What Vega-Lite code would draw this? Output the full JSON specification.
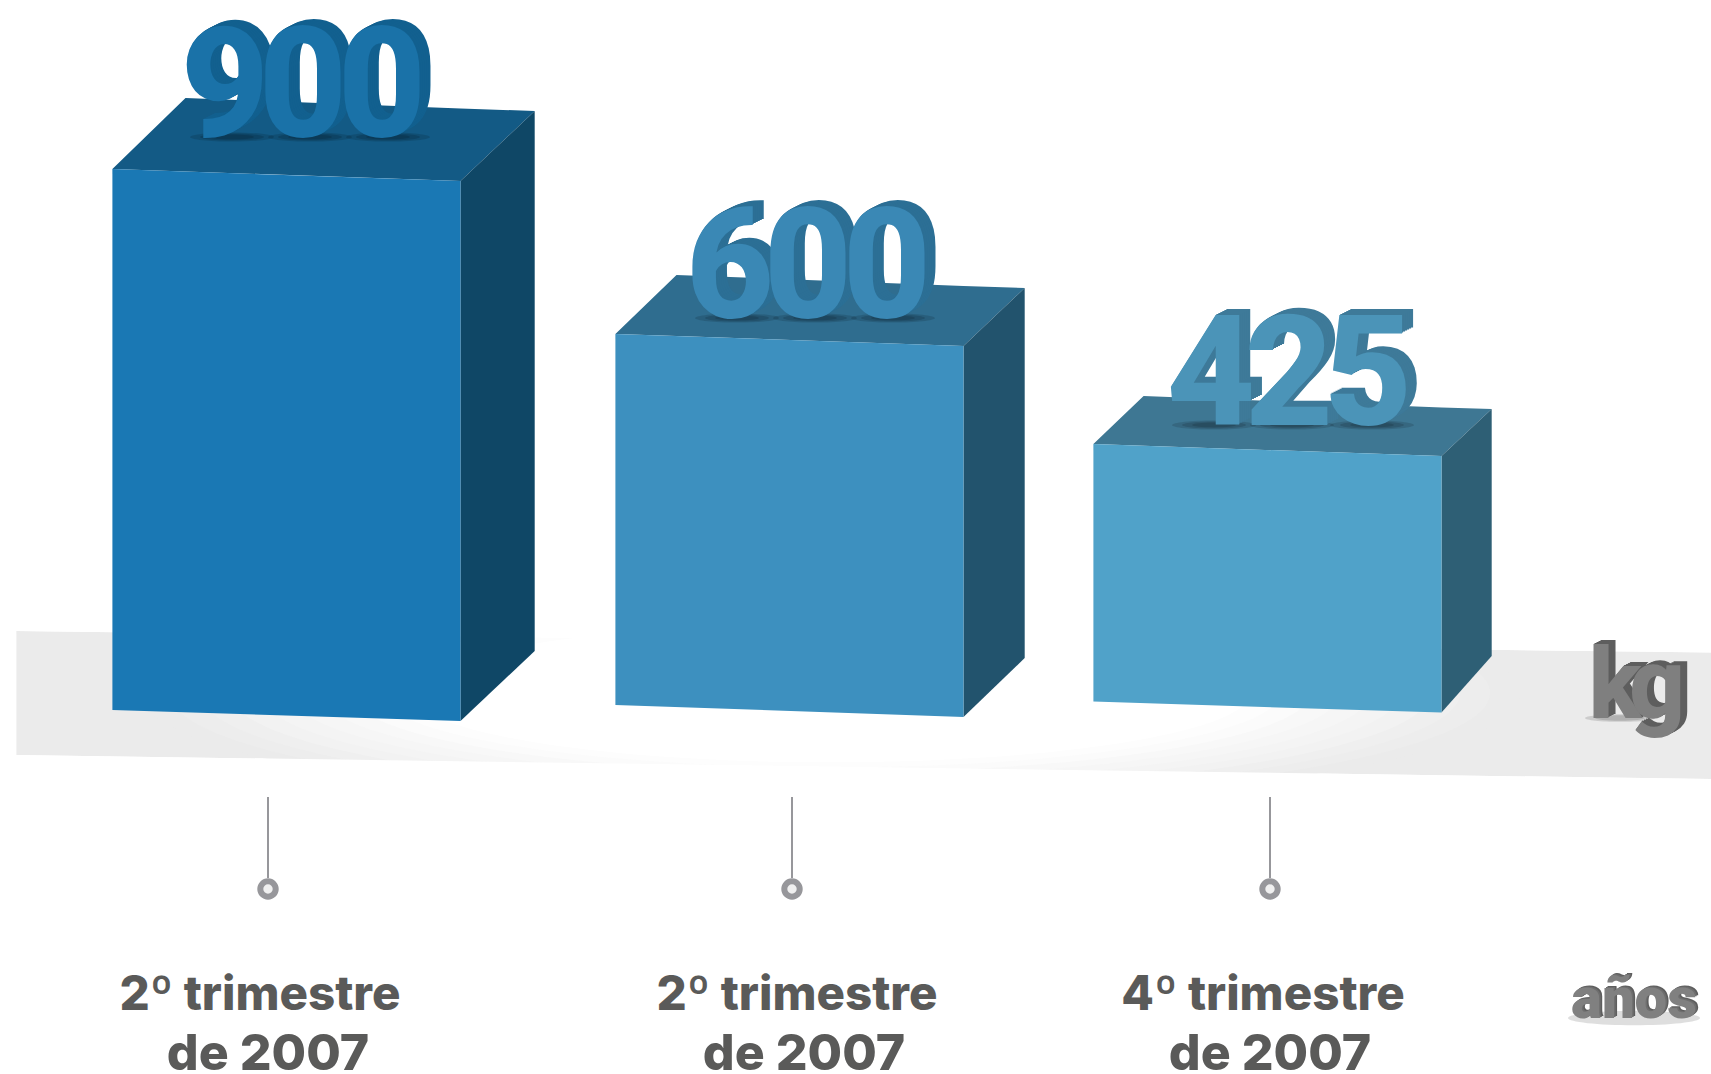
{"$schema":"https://vega.github.io/schema/vega-lite/v6.json","width":1711,"height":1074,"padding":0,"autosize":{"type":"none"},"background":"white","config":{"view":{"stroke":null}},
"datasets":{
"floor":[{"face":"floor","x":16.4,"y":631,"y2":755},{"face":"floor","x":1711,"y":652.5,"y2":779}],
"glow":[{"x":830,"y":693,"rx":690},{"x":830,"y":693,"rx":660},{"x":830,"y":693,"rx":630},{"x":830,"y":693,"rx":600},{"x":830,"y":693,"rx":570},{"x":830,"y":693,"rx":540},{"x":830,"y":693,"rx":510},{"x":830,"y":693,"rx":480},{"x":830,"y":693,"rx":450},{"x":830,"y":693,"rx":420}],
"faces":[
{"face":"mask","part":"above","x":16.4,"y":631,"y2":560},{"face":"mask","part":"above","x":1711,"y":652.5,"y2":560},
{"face":"mask","part":"below","x":16.4,"y":755,"y2":830},{"face":"mask","part":"below","x":1711,"y":779,"y2":830},
{"face":"b1top","part":"t1","x":112.4,"y":169,"y2":169},{"face":"b1top","part":"t1","x":185.5,"y":98,"y2":171.5},{"face":"b1top","part":"t1","x":460.5,"y":108.5,"y2":181},{"face":"b1top","part":"t1","x":534.7,"y":111,"y2":111},
{"face":"b1side","part":"s1","x":460.5,"y":181,"y2":721},{"face":"b1side","part":"s1","x":534.7,"y":111,"y2":651},
{"face":"b1front","part":"f1","x":112.4,"y":169,"y2":710},{"face":"b1front","part":"f1","x":460.5,"y":181,"y2":721},
{"face":"b2top","part":"t2","x":615.4,"y":334,"y2":334},{"face":"b2top","part":"t2","x":676.5,"y":275,"y2":336},{"face":"b2top","part":"t2","x":963.5,"y":286,"y2":346},{"face":"b2top","part":"t2","x":1024.7,"y":288,"y2":288},
{"face":"b2side","part":"s2","x":963.5,"y":346,"y2":717},{"face":"b2side","part":"s2","x":1024.7,"y":288,"y2":658},
{"face":"b2front","part":"f2","x":615.4,"y":334,"y2":705},{"face":"b2front","part":"f2","x":963.5,"y":346,"y2":717},
{"face":"b3top","part":"t3","x":1093.4,"y":444,"y2":444},{"face":"b3top","part":"t3","x":1143.6,"y":396,"y2":445.7},{"face":"b3top","part":"t3","x":1441.5,"y":407.4,"y2":456},{"face":"b3top","part":"t3","x":1491.7,"y":409,"y2":409},
{"face":"b3side","part":"s3","x":1441.5,"y":456,"y2":712.6},{"face":"b3side","part":"s3","x":1491.7,"y":409,"y2":656},
{"face":"b3front","part":"f3","x":1093.4,"y":444,"y2":701.6},{"face":"b3front","part":"f3","x":1441.5,"y":456,"y2":712.6}
],
"shadows":[
{"x":232,"y":137,"rx":42},{"x":232,"y":137,"rx":32},{"x":232,"y":137,"rx":22},
{"x":310,"y":137,"rx":42},{"x":310,"y":137,"rx":32},{"x":310,"y":137,"rx":22},
{"x":388,"y":137,"rx":42},{"x":388,"y":137,"rx":32},{"x":388,"y":137,"rx":22},
{"x":737,"y":318,"rx":42},{"x":737,"y":318,"rx":32},{"x":737,"y":318,"rx":22},
{"x":815,"y":318,"rx":42},{"x":815,"y":318,"rx":32},{"x":815,"y":318,"rx":22},
{"x":893,"y":318,"rx":42},{"x":893,"y":318,"rx":32},{"x":893,"y":318,"rx":22},
{"x":1214,"y":425,"rx":42},{"x":1214,"y":425,"rx":32},{"x":1214,"y":425,"rx":22},
{"x":1292,"y":425,"rx":42},{"x":1292,"y":425,"rx":32},{"x":1292,"y":425,"rx":22},
{"x":1372,"y":425,"rx":42},{"x":1372,"y":425,"rx":32},{"x":1372,"y":425,"rx":22},
{"x":1620,"y":718,"rx":35},{"x":1620,"y":718,"rx":25},
{"x":1634,"y":1018,"rx":66}
],
"digits":[
{"value":900,"glyph":"9","x":225,"y":137},{"value":900,"glyph":"0","x":303,"y":137},{"value":900,"glyph":"0","x":382,"y":137},
{"value":600,"glyph":"6","x":730,"y":318},{"value":600,"glyph":"0","x":808,"y":318},{"value":600,"glyph":"0","x":887,"y":318},
{"value":425,"glyph":"4","x":1211,"y":425},{"value":425,"glyph":"2","x":1289,"y":425},{"value":425,"glyph":"5","x":1368,"y":425}
],
"kg":[{"unit":"k","x":1615,"y":718},{"unit":"g","x":1657,"y":718}],
"anos":[{"unit":"años","x":1634,"y":1018}],
"ticks":[{"quarter":"2º trimestre de 2007 A","x":268,"y":797,"y2":878,"cy":889},{"quarter":"2º trimestre de 2007 B","x":792,"y":797,"y2":878,"cy":889},{"quarter":"4º trimestre de 2007","x":1270,"y":797,"y2":878,"cy":889}],
"labelsTop":[{"text":"2º trimestre","x":260,"y":1010},{"text":"2º trimestre","x":797,"y":1010},{"text":"4º trimestre","x":1263,"y":1010}],
"labelsBottom":[{"text":"de 2007","x":268,"y":1070},{"text":"de 2007","x":804,"y":1070},{"text":"de 2007","x":1270,"y":1070}]
},
"encoding":{
"x":{"field":"x","type":"quantitative","scale":{"domain":[0,1711],"nice":false,"zero":false},"axis":null},
"y":{"field":"y","type":"quantitative","scale":{"domain":[1074,0],"nice":false,"zero":false},"axis":null}
},
"layer":[
{"data":{"name":"floor"},"mark":{"type":"area","color":"#ebebeb"},"encoding":{"y2":{"field":"y2"}}},
{"data":{"name":"glow"},"mark":{"type":"point","filled":true,"opacity":1,"shape":"M-1,0A1,0.165,0,1,0,1,0A1,0.165,0,1,0,-1,0Z"},"encoding":{"size":{"field":"rx","type":"quantitative","scale":{"type":"pow","exponent":2,"domain":[0,700],"range":[0,1960000]},"legend":null},"color":{"field":"rx","type":"quantitative","scale":{"domain":[420,690],"range":["#ffffff","#ebebeb"]},"legend":null}}},
{"data":{"name":"faces"},"mark":{"type":"area"},"encoding":{"y2":{"field":"y2"},"detail":{"field":"part"},"color":{"field":"face","type":"nominal","legend":null,"scale":{"domain":["mask","b1top","b1side","b1front","b2top","b2side","b2front","b3top","b3side","b3front"],"range":["#ffffff","#135a85","#0f4766","#1a78b4","#2f6d8f","#22536d","#3d90bf","#3e7793","#2e5f75","#50a2c9"]}}}},
{"data":{"name":"shadows"},"mark":{"type":"point","filled":true,"color":"#000000","opacity":0.13,"shape":"M-1,0A1,0.11,0,1,0,1,0A1,0.11,0,1,0,-1,0Z"},"encoding":{"size":{"field":"rx","type":"quantitative","scale":{"type":"pow","exponent":2,"domain":[0,100],"range":[0,40000]},"legend":null}}},
{"data":{"name":"digits"},"mark":{"type":"text","font":"Roboto","fontWeight":800,"fontSize":154,"baseline":"alphabetic","align":"center","dx":11,"dy":-6},"encoding":{"text":{"field":"glyph"},"color":{"field":"value","type":"nominal","legend":null,"scale":{"domain":[900,600,425],"range":["#12608f","#2c6f95","#3e7a99"]}}}},
{"data":{"name":"digits"},"mark":{"type":"text","font":"Roboto","fontWeight":800,"fontSize":154,"baseline":"alphabetic","align":"center","dx":9,"dy":-5},"encoding":{"text":{"field":"glyph"},"color":{"field":"value","type":"nominal","legend":null,"scale":{"domain":[900,600,425],"range":["#12608f","#2c6f95","#3e7a99"]}}}},
{"data":{"name":"digits"},"mark":{"type":"text","font":"Roboto","fontWeight":800,"fontSize":154,"baseline":"alphabetic","align":"center","dx":7,"dy":-4},"encoding":{"text":{"field":"glyph"},"color":{"field":"value","type":"nominal","legend":null,"scale":{"domain":[900,600,425],"range":["#12608f","#2c6f95","#3e7a99"]}}}},
{"data":{"name":"digits"},"mark":{"type":"text","font":"Roboto","fontWeight":800,"fontSize":154,"baseline":"alphabetic","align":"center","dx":5,"dy":-3},"encoding":{"text":{"field":"glyph"},"color":{"field":"value","type":"nominal","legend":null,"scale":{"domain":[900,600,425],"range":["#12608f","#2c6f95","#3e7a99"]}}}},
{"data":{"name":"digits"},"mark":{"type":"text","font":"Roboto","fontWeight":800,"fontSize":154,"baseline":"alphabetic","align":"center","dx":3,"dy":-2},"encoding":{"text":{"field":"glyph"},"color":{"field":"value","type":"nominal","legend":null,"scale":{"domain":[900,600,425],"range":["#12608f","#2c6f95","#3e7a99"]}}}},
{"data":{"name":"digits"},"mark":{"type":"text","font":"Roboto","fontWeight":800,"fontSize":154,"baseline":"alphabetic","align":"center","dx":1,"dy":-1},"encoding":{"text":{"field":"glyph"},"color":{"field":"value","type":"nominal","legend":null,"scale":{"domain":[900,600,425],"range":["#12608f","#2c6f95","#3e7a99"]}}}},
{"data":{"name":"digits"},"mark":{"type":"text","font":"Roboto","fontWeight":800,"fontSize":154,"baseline":"alphabetic","align":"center"},"encoding":{"text":{"field":"glyph"},"color":{"field":"value","type":"nominal","legend":null,"scale":{"domain":[900,600,425],"range":["#1a72a8","#3a88b5","#4b94b8"]}}}},
{"data":{"name":"ticks"},"mark":{"type":"rule","color":"#97979b","strokeWidth":2},"encoding":{"y2":{"field":"y2"}}},
{"data":{"name":"ticks"},"mark":{"type":"point","filled":false,"fill":"#f0f0f0","stroke":"#97979b","strokeWidth":6,"opacity":1,"size":238},"encoding":{"y":{"field":"cy","type":"quantitative","scale":{"domain":[1074,0],"nice":false,"zero":false},"axis":null}}},
{"data":{"name":"labelsTop"},"mark":{"type":"text","font":"Inter","fontWeight":800,"fontSize":47.5,"baseline":"alphabetic","align":"center","color":"#5a5a59"},"encoding":{"text":{"field":"text"}}},
{"data":{"name":"labelsBottom"},"mark":{"type":"text","font":"Inter","fontWeight":800,"fontSize":50,"baseline":"alphabetic","align":"center","color":"#5a5a59"},"encoding":{"text":{"field":"text"}}},
{"data":{"name":"kg"},"mark":{"type":"text","font":"Roboto","fontWeight":800,"fontSize":98,"baseline":"alphabetic","align":"center","color":"#5e5e5e","dx":7,"dy":-4},"encoding":{"text":{"field":"unit"}}},
{"data":{"name":"kg"},"mark":{"type":"text","font":"Roboto","fontWeight":800,"fontSize":98,"baseline":"alphabetic","align":"center","color":"#5e5e5e","dx":5,"dy":-3},"encoding":{"text":{"field":"unit"}}},
{"data":{"name":"kg"},"mark":{"type":"text","font":"Roboto","fontWeight":800,"fontSize":98,"baseline":"alphabetic","align":"center","color":"#5e5e5e","dx":3,"dy":-2},"encoding":{"text":{"field":"unit"}}},
{"data":{"name":"kg"},"mark":{"type":"text","font":"Roboto","fontWeight":800,"fontSize":98,"baseline":"alphabetic","align":"center","color":"#5e5e5e","dx":1,"dy":-1},"encoding":{"text":{"field":"unit"}}},
{"data":{"name":"kg"},"mark":{"type":"text","font":"Roboto","fontWeight":800,"fontSize":98,"baseline":"alphabetic","align":"center","color":"#7f7f7f"},"encoding":{"text":{"field":"unit"}}},
{"data":{"name":"anos"},"mark":{"type":"text","font":"Roboto","fontWeight":900,"fontSize":58,"baseline":"alphabetic","align":"center","color":"#5e5e5e","dx":3,"dy":-2},"encoding":{"text":{"field":"unit"}}},
{"data":{"name":"anos"},"mark":{"type":"text","font":"Roboto","fontWeight":900,"fontSize":58,"baseline":"alphabetic","align":"center","color":"#6e6e6e","dx":1.5,"dy":-1},"encoding":{"text":{"field":"unit"}}},
{"data":{"name":"anos"},"mark":{"type":"text","font":"Roboto","fontWeight":900,"fontSize":58,"baseline":"alphabetic","align":"center","color":"#808080"},"encoding":{"text":{"field":"unit"}}}
]}
